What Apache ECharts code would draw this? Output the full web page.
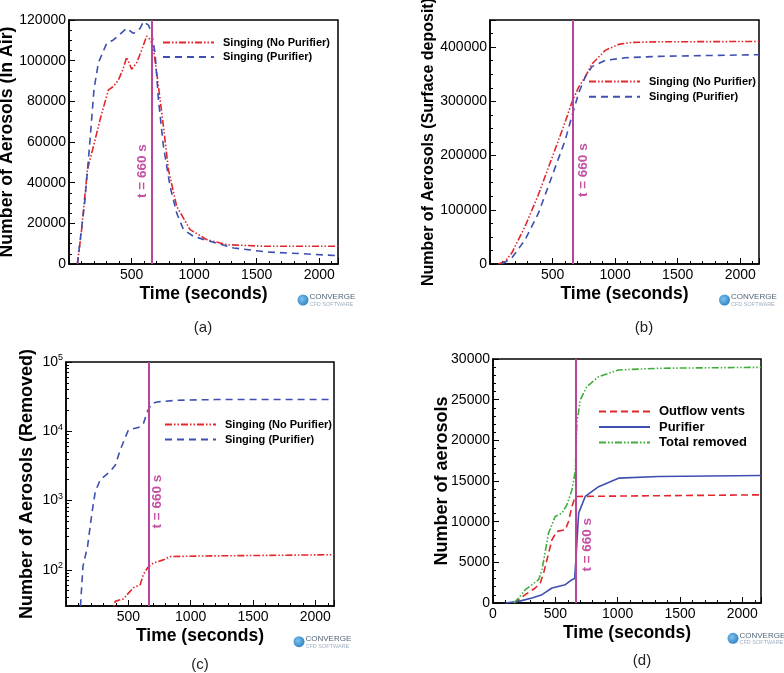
<!DOCTYPE html>
<html>
<head>
<meta charset="utf-8">
<script src="https://cdn.jsdelivr.net/npm/echarts@6/dist/echarts.min.js"></script>
<style>html,body{margin:0;padding:0;background:#fff}#c{width:784px;height:673px}</style>
</head>
<body>
<div id="c"></div>
<script>
// ---- Panel (a): aerosols in air ----
const aNoPurT = [67,101,147,195,248,315,355,395,429,461,501,541,581,621,653,675,715,755,795,861,968,1101,1261,1581,2155];
const aNoPurV = [0,16900,46300,57800,70900,85600,87300,90500,95400,101700,95800,99000,105300,112100,110200,106000,87300,67600,46300,28300,16900,12000,9500,8700,8700];
const aPurT = [67,128,168,200,235,301,355,461,515,568,595,635,661,688,715,755,808,861,915,995,1101,1315,1581,1848,2155];
const aPurV = [0,31600,61000,86000,99000,108500,110200,115900,113400,115900,119200,117500,113400,103600,80700,57800,38100,25000,16900,13600,11600,7900,5900,5100,4100];
// ---- Panel (b): surface deposit ----
const bNoPurT = [67,120,174,280,387,494,548,601,654,708,761,815,921,1028,1135,1349,2150];
const bNoPurV = [0,4900,20200,69200,128000,195000,228500,262000,298000,326000,345000,369000,394000,405000,408600,409800,410400];
const bPurT = [93,174,280,387,494,601,654,708,761,815,921,1082,1349,2150];
const bPurV = [0,11000,44700,93700,161000,228500,272000,315000,345000,364000,375500,380400,383000,386000];
// ---- Panel (c): removed (log) ----
const cPurT = [110,136,173,208,235,275,355,395,435,501,581,621,656,688,728,888,1200,2150];
const cPurV = [20,112,218,660,1350,2000,2630,3240,5370,10500,11300,12900,19900,25100,26500,28000,28700,28700];
const cNoPurT = [350,395,461,501,541,595,621,656,701,781,835,1075,2150];
const cNoPurV = [20,35,38,46,55,61,86,108,125,139,155,158,165];
// ---- Panel (d): removal breakdown ----
const dVentT = [166,259,339,379,406,433,473,513,580,606,633,660,2150];
const dVentV = [0,1020,1840,2460,3680,5320,7780,8800,9000,10030,11870,13100,13300];
const dPurifT = [99,206,313,393,473,580,633,655,665,687,740,847,1007,1327,2150];
const dPurifV = [0,200,610,1020,1840,2250,2870,3000,5300,11050,13100,14300,15350,15550,15680];
const dTotalT = [166,206,259,313,366,393,446,499,553,593,633,660,673,700,753,847,1007,1327,2150];
const dTotalV = [0,600,1640,2250,2870,4090,8600,10640,11050,12070,13900,16170,22100,24970,26600,27830,28650,28860,28980];
// ---- labels ----
const nameNoPur = 'Singing (No Purifier)';
const namePur = 'Singing (Purifier)';
const nameVent = 'Outflow vents';
const namePurifier = 'Purifier';
const nameTotal = 'Total removed';
const eventTime = 660;
const eventLabel = 't = 660 s';
const xName = 'Time (seconds)';
const yNames = ['Number of Aerosols (In Air)', 'Number of Aerosols (Surface deposit)', 'Number of Aerosols (Removed)', 'Number of aerosols'];
const captions = ['(a)', '(b)', '(c)', '(d)'];
const logMinorTicks = [40,50,60,70,80,90,200,300,400,500,600,700,800,900,2000,3000,4000,5000,6000,7000,8000,9000,20000,30000,40000,50000,60000,70000,80000,90000];

const FONT = '"Liberation Sans", Arial, sans-serif';
const RED = '#e3262b', BLUE = '#3d4fb0', GREEN = '#3fae3a', PURPLE = '#b8449c', LBL = '#c451a3';
const pairs = (t, v) => t.map((x, i) => [x, v[i]]);
const plain = v => String(v);

const grids = [
  {left: 69, top: 20, width: 269, height: 244},
  {left: 490, top: 20, width: 269, height: 244},
  {left: 66, top: 362, width: 268, height: 244},
  {left: 493, top: 359, width: 268, height: 244}
].map(g => Object.assign({show: true, borderColor: '#000', borderWidth: 1.5, backgroundColor: 'transparent', outerBoundsMode: 'none', containLabel: false}, g));

function xAxis(i, showMin) {
  return {
    type: 'value', gridIndex: i, min: 0, max: 2150, interval: 500,
    name: xName, nameLocation: 'middle', nameGap: 21, nameMoveOverlap: false,
    nameTextStyle: {fontFamily: FONT, fontWeight: 'bold', fontSize: 17.5, color: '#000'},
    axisLine: {lineStyle: {color: '#000', width: 1.5}},
    axisTick: {inside: true, length: 6, lineStyle: {color: '#000'}},
    minorTick: {show: true, splitNumber: 5, length: 3, lineStyle: {color: '#000'}},
    splitLine: {show: false},
    axisLabel: {fontFamily: FONT, fontSize: 14, color: '#000', margin: 4, showMinLabel: showMin, showMaxLabel: false, formatter: plain}
  };
}
function yAxis(i, o) {
  return Object.assign({
    type: 'value', gridIndex: i,
    name: yNames[i], nameLocation: 'middle', nameRotate: 90, nameMoveOverlap: false,
    nameTextStyle: {fontFamily: FONT, fontWeight: 'bold', fontSize: 17.7, color: '#000'},
    axisLine: {show: true, lineStyle: {color: '#000', width: 1.5}},
    axisTick: {show: true, inside: true, length: 6, lineStyle: {color: '#000'}},
    minorTick: {show: true, splitNumber: 4, length: 3, lineStyle: {color: '#000'}},
    splitLine: {show: false},
    axisLabel: {fontFamily: FONT, fontSize: 14, color: '#000', margin: 3, formatter: plain}
  }, o);
}

const yAxes = [
  yAxis(0, {min: 0, max: 120000, interval: 20000, nameGap: 53}),
  yAxis(1, {min: 0, max: 450000, interval: 100000, nameGap: 53,
    nameTextStyle: {fontFamily: FONT, fontWeight: 'bold', fontSize: 16, color: '#000'},
    axisLabel: {fontFamily: FONT, fontSize: 14, color: '#000', margin: 3, showMaxLabel: false, formatter: plain}}),
  yAxis(2, {type: 'log', logBase: 10, min: 30, max: 100000, nameGap: 30, nameTextStyle: {fontFamily: FONT, fontWeight: 'bold', fontSize: 18, color: '#000'},
    minorTick: {show: false},
    axisLabel: {fontFamily: FONT, fontSize: 14, color: '#000', margin: 3, showMinLabel: false,
      formatter: v => { const e = Math.round(Math.log10(v)); return Math.abs(Math.pow(10, e) - v) / v < 1e-6 ? '10{s|' + e + '}' : ''; },
      rich: {s: {fontFamily: FONT, fontSize: 9, color: '#000', verticalAlign: 'top', padding: [0, 0, 8, 0]}}}}),
  yAxis(3, {min: 0, max: 30000, interval: 5000, nameGap: 42, nameTextStyle: {fontFamily: FONT, fontWeight: 'bold', fontSize: 18, color: '#000'},
    minorTick: {show: true, splitNumber: 5, length: 3, lineStyle: {color: '#000'}}}),
  // minor ticks for log axis
  {type: 'log', logBase: 10, gridIndex: 2, min: 30, max: 100000, position: 'left',
    axisLine: {show: false}, splitLine: {show: false}, axisLabel: {show: false},
    axisTick: {show: true, inside: true, length: 3, customValues: logMinorTicks, lineStyle: {color: '#000'}}}
];

const dashDotDot = [7, 2, 1.5, 2, 1.5, 2];
function line(name, xi, yi, data, color, type, extra) {
  return Object.assign({
    type: 'line', name: name, xAxisIndex: xi, yAxisIndex: yi, data: data,
    showSymbol: false, symbol: 'none', smooth: false, clip: true,
    lineStyle: {color: color, width: 1.6, type: type}, itemStyle: {color: color},
    animation: false, z: 3
  }, extra || {});
}
function eventMarks(yVal, off) {
  return {
    markLine: {silent: true, symbol: 'none', animation: false,
      lineStyle: {color: PURPLE, width: 2, type: 'solid'}, label: {show: false},
      data: [{xAxis: eventTime}]},
    markPoint: {silent: true, animation: false, symbolSize: 0,
      data: [{coord: [eventTime, yVal]}],
      label: {show: true, formatter: eventLabel, rotate: 90, offset: [0, off], position: 'inside',
        color: LBL, fontFamily: FONT, fontWeight: 'bold', fontSize: 13.5}}
  };
}

const series = [
  line(nameNoPur, 0, 0, pairs(aNoPurT, aNoPurV), RED, dashDotDot, eventMarks(45700, -9)),
  line(namePur, 0, 0, pairs(aPurT, aPurV), BLUE, [7, 5]),
  line(nameNoPur, 1, 1, pairs(bNoPurT, bNoPurV), RED, dashDotDot, eventMarks(173000, 11)),
  line(namePur, 1, 1, pairs(bPurT, bPurV), BLUE, [7, 5]),
  line(nameNoPur, 2, 2, pairs(cNoPurT, cNoPurV), RED, dashDotDot, eventMarks(966, 9)),
  line(namePur, 2, 2, pairs(cPurT, cPurV), BLUE, [7, 5]),
  line(nameVent, 3, 3, pairs(dVentT, dVentV), RED, [7, 4]),
  line(namePurifier, 3, 3, pairs(dPurifT, dPurifV), BLUE, 'solid', eventMarks(7160, 12)),
  line(nameTotal, 3, 3, pairs(dTotalT, dTotalV), GREEN, dashDotDot)
];

function legend(left, top, names, fs, gap) {
  return {
    left: left, top: top, orient: 'vertical', itemWidth: 51, itemHeight: 10, itemGap: gap,
    data: names, selectedMode: false, padding: 0,
    itemStyle: {opacity: 0, borderWidth: 0},
    textStyle: {fontFamily: FONT, fontWeight: 'bold', fontSize: fs, color: '#000', padding: [0, 0, 0, 4]}
  };
}

function logo(cx, cy) {
  return [
    {type: 'circle', shape: {cx: cx, cy: cy, r: 5.5}, style: {fill: {type: 'radial', x: 0.4, y: 0.4, r: 0.7, colorStops: [{offset: 0, color: '#7ec3ee'}, {offset: 1, color: '#2a7cc0'}]}}},
    {type: 'text', x: cx + 6.5, y: cy - 7, style: {text: 'CONVERGE', font: '8px ' + FONT, fill: '#506478'}},
    {type: 'text', x: cx + 6.5, y: cy + 1.5, style: {text: 'CFD SOFTWARE', font: '5.5px ' + FONT, fill: '#9fb0c2'}}
  ];
}
const caption = (t, x, y) => ({type: 'text', x: x, y: y, style: {text: t, font: '15px ' + FONT, fill: '#222', align: 'center', verticalAlign: 'middle'}});

const option = {
  backgroundColor: '#fff',
  animation: false,
  grid: grids,
  xAxis: [xAxis(0, false), xAxis(1, false), xAxis(2, false), xAxis(3, true)],
  yAxis: yAxes,
  legend: [
    legend(162, 37, [nameNoPur, namePur], 11, 3.5),
    legend(588, 76, [nameNoPur, namePur], 11, 4.3),
    legend(164, 419, [nameNoPur, namePur], 11, 4),
    legend(598, 405, [nameVent, namePurifier, nameTotal], 13, 2.5)
  ],
  series: series,
  graphic: [].concat(
    logo(303, 300), logo(724.5, 300), logo(299, 641.7), logo(733, 638.3),
    [caption(captions[0], 203, 328), caption(captions[1], 644, 328), caption(captions[2], 200, 665), caption(captions[3], 642, 661)]
  )
};
echarts.init(document.getElementById('c'), null, {renderer: 'canvas'}).setOption(option);
</script>
</body>
</html>
